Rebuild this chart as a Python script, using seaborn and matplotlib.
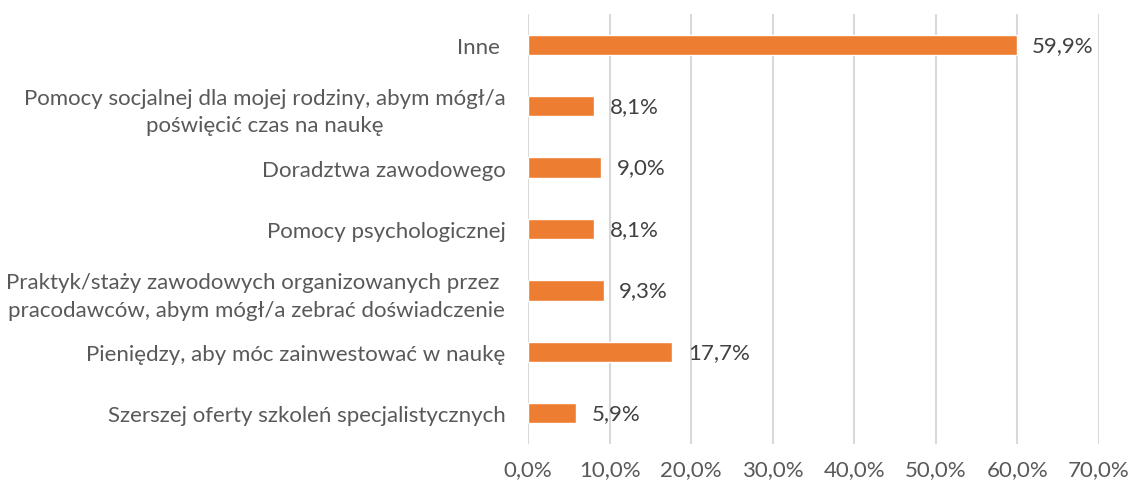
import matplotlib
matplotlib.use("Agg")
import matplotlib.pyplot as plt
import seaborn as sns
import pandas as pd

categories = [
    "Inne ",
    "Pomocy socjalnej dla mojej rodziny, abym mógł/a\npoświęcić czas na naukę",
    "Doradztwa zawodowego",
    "Pomocy psychologicznej",
    "Praktyk/staży zawodowych organizowanych przez \npracodawców, abym mógł/a zebrać doświadczenie",
    "Pieniędzy, aby móc zainwestować w naukę",
    "Szerszej oferty szkoleń specjalistycznych",
]
values = [59.9, 8.1, 9.0, 8.1, 9.3, 17.7, 5.9]
xticks = [0, 10, 20, 30, 40, 50, 60, 70]

df = pd.DataFrame({"cat": categories, "val": values})

sns.set_theme(style="white")
plt.rcParams["font.family"] = ["Lato", "DejaVu Sans"]

fig = plt.figure(figsize=(11.32, 4.85), dpi=100)
ax = fig.add_axes([0.4664, 0.0825, 0.5044, 0.8865])

sns.barplot(data=df, x="val", y="cat", orient="h", color="#ED7D31",
            saturation=1, width=0.33, ax=ax)

ax.set_xlim(0, 70)
ax.set_xticks(xticks)
ax.set_xticklabels([f"{t:.1f}%".replace(".", ",") for t in xticks])
ax.xaxis.grid(True, color="#D9D9D9", linewidth=1.5)
ax.set_axisbelow(True)
for s in ax.spines.values():
    s.set_visible(False)
ax.set_xlabel("")
ax.set_ylabel("")
ax.tick_params(axis="x", length=0, pad=11, labelsize=16, labelcolor="#595959")
ax.tick_params(axis="y", length=0, pad=16, labelsize=16, labelcolor="#595959")
for lab in ax.get_yticklabels():
    lab.set_multialignment("center")
    lab.set_linespacing(1.45)

for i, v in enumerate(values):
    ax.text(v + 1.9, i, f"{v:.1f}%".replace(".", ","), va="center", ha="left",
            fontsize=16, color="#404040")

fig.savefig("out.png", dpi=100)
